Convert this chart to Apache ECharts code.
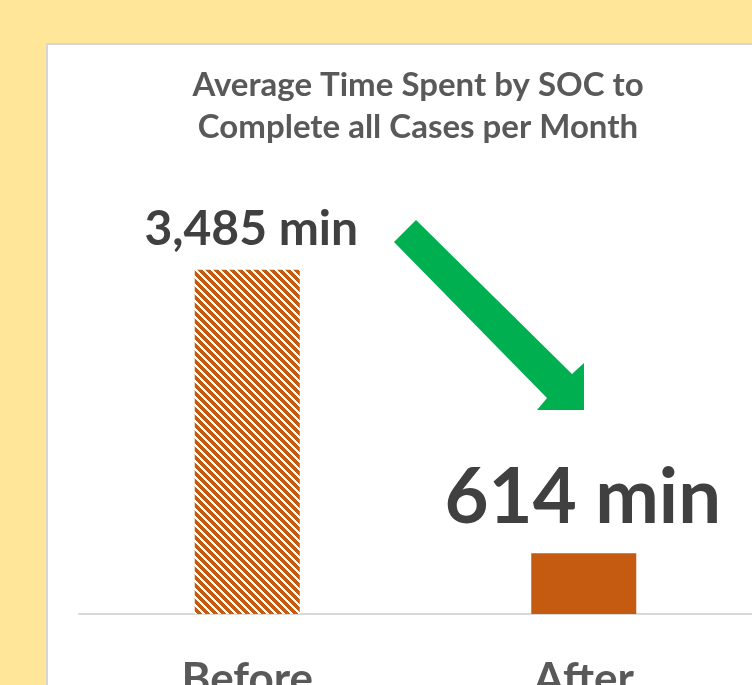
<!DOCTYPE html>
<html>
<head>
<meta charset="utf-8">
<script src="https://cdn.jsdelivr.net/npm/echarts@6/dist/echarts.min.js"></script>
<style>
  html, body { margin: 0; padding: 0; background: #FFE699; }
  #chart { width: 752px; height: 685px; }
</style>
</head>
<body>
<div id="chart"></div>
<script>
// data
const categories = ['Before', 'After']
const minutes = [3485, 614]
const titleLines = ['Average Time Spent by SOC to', 'Complete all Cases per Month']

const orange = '#C55A11'
const fontFam = 'Lato, "Open Sans", sans-serif'

// wide downward diagonal hatch for the "before" bar
function hatch() {
    const n = 8
    const c = document.createElement('canvas')
    c.width = n
    c.height = n
    const ctx = c.getContext('2d')
    ctx.fillStyle = '#fff'
    ctx.fillRect(0, 0, n, n)
    ctx.fillStyle = orange
    for (let y = 0; y < n; y++) {
        for (let x = 0; x < n; x++) {
            if (((x - y) % n + n) % n < 5) ctx.fillRect(x, y, 1, 1)
        }
    }
    return c
}

const barStyles = [
    { color: { image: hatch(), repeat: 'repeat' } },
    { color: orange }
]
const labelStyles = [
    { fontSize: 48, distance: 16, offset: [4, 0] },
    { fontSize: 76, distance: 17, offset: [-1, 0] }
]

const chart = echarts.init(document.getElementById('chart'))

const option = {
    backgroundColor: '#FFE699',
    animation: false,
    title: {
        text: titleLines.join('\n'),
        left: 413,
        top: 59,
        textAlign: 'center',
        textStyle: {
            fontFamily: fontFam,
            fontWeight: 'bold',
            fontSize: 33,
            lineHeight: 42,
            color: '#595959'
        }
    },
    graphic: [
        {
            type: 'rect',
            z: -10,
            shape: { x: 47, y: 44, width: 720, height: 660 },
            style: { fill: '#fff', stroke: '#D6D6D6', lineWidth: 2 }
        },
        {
            // the green "went down" arrow
            type: 'polygon',
            z: 10,
            shape: {
                points: [[394, 242], [416, 220], [572, 374], [584, 363],
                         [584, 410], [537, 410], [547, 398]]
            },
            style: { fill: '#00B050' }
        }
    ],
    grid: { left: 79, right: 0, top: 219, bottom: 71, outerBoundsMode: 'none' },
    xAxis: {
        type: 'category',
        data: categories,
        axisLine: { lineStyle: { color: '#D9D9D9', width: 2 } },
        axisTick: { show: false },
        axisLabel: {
            margin: 44,
            fontFamily: fontFam,
            fontWeight: 'bold',
            fontSize: 44,
            color: '#595959'
        }
    },
    yAxis: {
        type: 'value',
        min: 0,
        max: 4000,
        show: false,
        splitLine: { show: false }
    },
    series: [{
        type: 'bar',
        barWidth: 105,
        data: minutes.map((v, i) => ({
            value: v,
            itemStyle: barStyles[i],
            label: {
                show: true,
                position: 'top',
                distance: labelStyles[i].distance,
                offset: labelStyles[i].offset,
                fontSize: labelStyles[i].fontSize,
                fontFamily: fontFam,
                fontWeight: 'bold',
                color: '#404040',
                formatter: p => p.value.toLocaleString('en-US') + ' min'
            }
        }))
    }]
}

chart.setOption(option)
</script>
</body>
</html>
